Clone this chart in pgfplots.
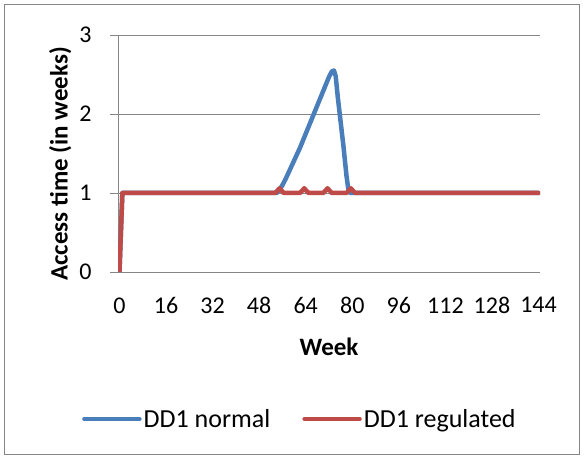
\documentclass[border=0pt]{standalone}
\usepackage{fontspec}
\setmainfont{Carlito}
\usepackage{pgfplots}
\pgfplotsset{compat=1.18}
\definecolor{xlblue}{HTML}{4A7EBB}
\definecolor{xlred}{HTML}{BE4B48}
\definecolor{xlgray}{HTML}{868686}
\begin{document}
\begin{tikzpicture}
\useasboundingbox (0,0) rectangle (584bp,459bp);
\draw[xlgray, line width=1.3bp] (4.5bp,4.5bp) rectangle (579.5bp,454.5bp);
\begin{axis}[
  at={(118bp,187bp)}, anchor=south west,
  scale only axis, width=422bp, height=237bp,
  xmin=-0.5, xmax=144.5, ymin=0, ymax=3,
  axis x line=bottom, axis y line=left,
  x axis line style={draw=none},
  y axis line style={xlgray, line width=0.9bp, -},
  xtick={0,16,...,144}, ytick={0,1,2,3},
  xtick style={draw=none},
  ytick style={xlgray, line width=0.9bp},
  tick align=outside, major tick length=8bp,
  ymajorgrids, grid style={xlgray, line width=0.9bp},
  /pgf/number format/assume math mode=true,
  tick label style={font=\fontsize{24bp}{28bp}\selectfont},
  xticklabel style={yshift=-14bp},
  yticklabel style={xshift=-15bp},
  label style={font=\fontsize{25bp}{30bp}\selectfont\bfseries},
  xlabel={Week},
  ylabel={Access time (in weeks)},
  xlabel style={at={(axis description cs:0.5,-0.316)}, anchor=center},
  ylabel style={at={(axis description cs:-0.137,0.456)}, anchor=center, rotate=0},
  legend columns=2,
  legend style={draw=none, fill=none, at={(0.431,-0.62)}, anchor=center,
    font=\fontsize{26bp}{30bp}\selectfont,
    /tikz/every even column/.style={column sep=30bp}},
  legend image code/.code={\draw[#1, line width=4.5bp, line cap=round] (0bp,0bp) -- (55bp,0bp);},
]
\addplot[xlblue, line width=4.5bp, line join=round, line cap=round] coordinates {
(0,0) (1,1) (54,1) (55,1.04) (56,1.1) (57,1.17) (58,1.25) (59,1.33) (60,1.41)
(61,1.49) (62,1.57) (63,1.66) (64,1.75) (65,1.84) (66,1.93) (67,2.02) (68,2.11)
(69,2.2) (70,2.29) (71,2.38) (72,2.47) (73,2.54) (73.7,2.55) (74.3,2.48) (75,2.22)
(76,1.9) (77,1.58) (78,1.22) (78.7,1.03) (79.3,1) (144,1)
};
\addlegendentry{DD1 normal}
\addplot[xlred, line width=4.5bp, line join=round, line cap=round] coordinates {
(0,0) (1,1) (53.5,1) (54.3,1.03) (55,1.06) (55.7,1.03) (56.5,1) (62,1) (62.8,1.03) (63.5,1.06)
(64.2,1.03) (65,1) (70,1) (70.8,1.03) (71.5,1.06) (72.2,1.03) (73,1) (78,1) (78.8,1.03)
(79.5,1.06) (80.2,1.03) (81,1) (144,1)
};
\addlegendentry{DD1 regulated}
\end{axis}
\end{tikzpicture}
\end{document}
